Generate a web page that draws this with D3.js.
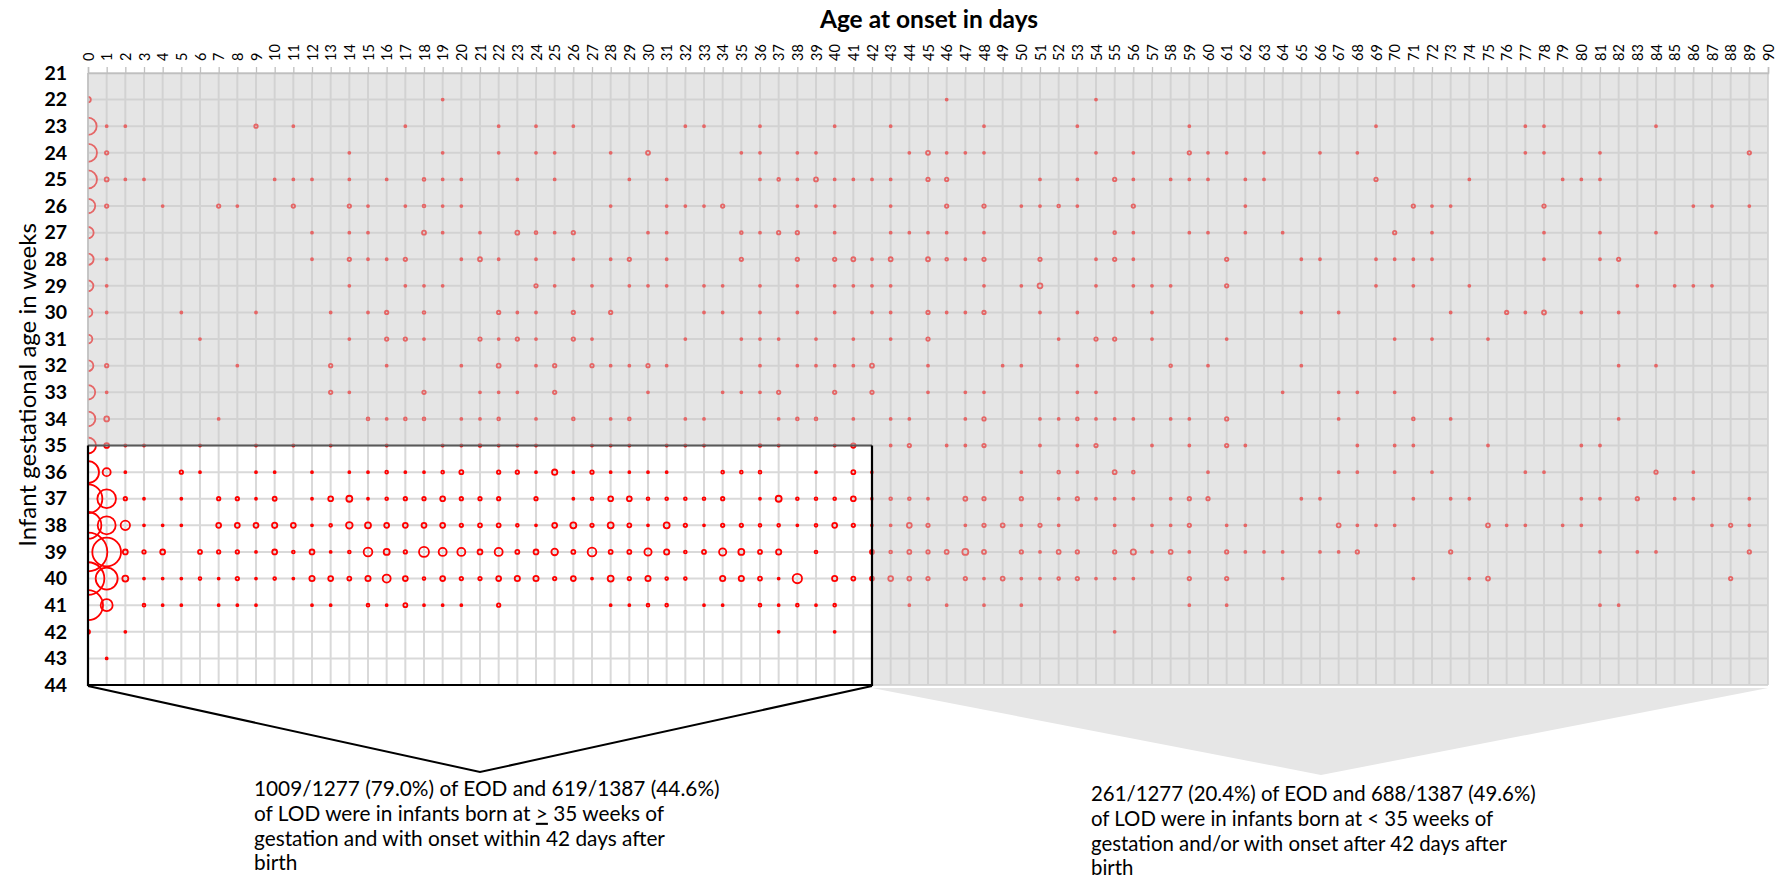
<!DOCTYPE html>
<html><head><meta charset="utf-8">
<script src="https://cdn.jsdelivr.net/npm/d3@7"></script>
<style>
body{margin:0;background:#fff}
svg{display:block}
text{font-family:Lato,"Open Sans","Noto Sans",sans-serif;fill:#000}
</style>
</head><body>
<svg id="chart" width="1791" height="885"></svg>
<script>
// ---------- data: [onset day, bubble size (relative case count)] per gestational week ----------
const dayTicks = d3.range(0, 91);
const weekTicks = d3.range(21, 45);
const week21 = [];
const week22 = [[0,8],[19,1],[46,1],[54,1]];
const week23 = [[0,75],[1,1],[2,1],[9,3],[11,1],[17,1],[22,1],[24,1],[26,1],[32,1],[33,1],[36,1],[40,1],[43,1],[48,1],[53,1],[59,1],[69,1],[77,1],[78,1],[84,1]];
const week24 = [[0,81],[1,3],[14,1],[19,1],[22,1],[24,1],[25,1],[28,1],[30,4],[35,1],[36,1],[38,1],[39,1],[44,1],[45,4],[46,1],[47,1],[48,1],[54,1],[56,1],[59,3],[60,1],[61,1],[63,1],[66,1],[68,1],[77,1],[78,1],[81,1],[89,3]];
const week25 = [[0,81],[1,4],[2,1],[3,1],[10,1],[11,1],[12,1],[14,1],[16,1],[18,2],[19,1],[20,1],[23,1],[25,1],[29,1],[31,1],[36,1],[37,2],[38,1],[39,4],[40,1],[41,1],[42,1],[43,1],[45,3],[46,3],[51,1],[53,1],[55,3],[56,1],[58,1],[59,1],[60,1],[62,1],[63,1],[69,3],[74,1],[79,1],[80,1],[81,1]];
const week26 = [[0,52],[1,3],[4,1],[7,3],[8,1],[11,3],[14,3],[15,1],[17,1],[18,2],[19,1],[20,1],[28,1],[31,1],[32,1],[33,1],[34,3],[38,1],[39,1],[40,1],[43,1],[46,3],[48,3],[50,1],[51,1],[52,2],[53,1],[56,3],[62,1],[71,3],[72,1],[73,1],[78,3],[86,1],[87,1],[89,1]];
const week27 = [[0,32],[12,1],[14,1],[15,1],[18,4],[19,1],[21,1],[23,4],[24,2],[25,1],[26,3],[30,1],[31,1],[35,2],[36,1],[37,3],[38,3],[40,1],[43,1],[44,1],[45,1],[46,1],[48,1],[55,2],[56,1],[59,1],[60,1],[62,1],[64,1],[70,3],[72,1],[78,1],[81,1],[84,1]];
const week28 = [[0,32],[1,1],[12,1],[14,3],[15,1],[16,1],[17,3],[20,1],[21,4],[22,1],[24,1],[26,1],[28,1],[29,3],[31,1],[35,3],[38,3],[40,3],[41,4],[42,1],[43,4],[45,4],[46,2],[47,1],[48,3],[51,3],[54,1],[55,3],[56,1],[61,3],[65,1],[66,1],[69,1],[70,1],[71,1],[72,1],[78,1],[81,1],[82,3]];
const week29 = [[0,29],[1,1],[14,1],[17,1],[18,1],[19,1],[24,3],[25,1],[27,1],[29,1],[30,1],[31,1],[33,1],[34,1],[36,1],[38,1],[40,1],[41,1],[42,1],[43,1],[48,1],[50,1],[51,6],[54,1],[56,1],[57,1],[58,1],[61,3],[69,1],[71,1],[74,1],[83,1],[85,1],[86,1],[87,1]];
const week30 = [[0,19],[1,1],[5,1],[9,1],[13,1],[15,1],[16,3],[18,2],[22,3],[23,1],[24,1],[26,3],[28,3],[33,1],[34,1],[36,1],[38,1],[40,1],[42,1],[43,1],[45,3],[46,1],[47,1],[48,3],[51,1],[53,1],[57,1],[65,1],[67,1],[73,1],[76,3],[77,1],[78,4],[80,1],[82,1]];
const week31 = [[0,19],[6,1],[14,1],[16,3],[17,3],[18,1],[21,3],[22,1],[23,3],[24,1],[26,3],[27,1],[32,1],[35,1],[36,1],[37,1],[39,1],[41,1],[43,1],[45,3],[52,1],[54,3],[55,3],[57,1],[61,1],[70,1],[72,1],[75,1]];
const week32 = [[0,29],[1,3],[8,1],[13,3],[16,1],[20,1],[22,4],[24,1],[25,3],[27,3],[28,1],[29,1],[30,3],[31,1],[36,1],[38,1],[39,1],[40,1],[41,1],[42,4],[45,1],[49,1],[50,1],[53,1],[58,2],[60,1],[65,1],[82,1],[84,1]];
const week33 = [[0,52],[1,1],[13,3],[14,1],[18,3],[21,1],[22,1],[23,1],[25,3],[30,1],[34,1],[35,1],[36,1],[37,3],[40,3],[42,3],[45,1],[47,1],[48,1],[53,1],[54,1],[64,1],[67,1],[68,1],[70,1]];
const week34 = [[0,54],[1,6],[7,1],[15,2],[16,1],[17,2],[18,2],[20,1],[21,1],[22,2],[24,1],[26,2],[28,1],[29,2],[32,1],[33,1],[37,1],[38,2],[39,2],[41,1],[43,1],[44,1],[47,1],[48,3],[51,1],[52,1],[53,2],[54,1],[55,1],[56,1],[58,1],[59,1],[61,3],[67,1],[71,2],[73,1],[82,1]];
const week35 = [[0,64],[1,6],[2,1],[3,1],[6,1],[9,1],[11,1],[13,1],[16,1],[19,1],[20,1],[21,2],[22,1],[23,1],[24,1],[27,1],[28,1],[29,1],[31,1],[32,1],[33,1],[36,2],[37,1],[40,1],[41,5],[43,1],[44,3],[46,1],[47,1],[48,3],[51,1],[53,1],[54,3],[57,1],[59,1],[61,3],[62,1],[68,1],[70,1],[71,1],[75,1],[80,1],[81,1]];
const week36 = [[0,121],[1,16],[2,1],[5,3],[6,1],[9,1],[10,1],[12,1],[14,1],[15,1],[16,2],[17,1],[18,1],[19,2],[20,4],[22,3],[23,3],[24,1],[25,7],[26,1],[27,3],[28,1],[29,1],[30,1],[31,1],[34,2],[35,2],[36,2],[39,1],[41,4],[42,1],[50,1],[52,2],[53,1],[55,4],[56,2],[60,1],[67,1],[68,1],[70,1],[72,1],[77,1],[78,1],[84,3],[86,1]];
const week37 = [[0,206],[1,87],[2,3],[3,1],[5,1],[7,3],[8,3],[9,1],[10,4],[12,1],[13,6],[14,9],[15,1],[16,2],[17,3],[18,3],[19,6],[20,3],[21,3],[22,3],[24,3],[26,1],[27,2],[28,6],[29,6],[30,2],[31,2],[32,2],[33,2],[34,3],[36,1],[37,9],[38,2],[39,2],[40,2],[41,6],[42,1],[43,2],[44,2],[45,1],[47,4],[48,3],[50,3],[52,1],[53,3],[54,1],[55,1],[56,1],[58,1],[59,3],[60,3],[65,1],[66,1],[71,1],[73,1],[74,1],[80,1],[81,1],[83,3],[85,1],[86,1],[89,1]];
const week38 = [[0,178],[1,81],[2,22],[3,1],[4,1],[5,1],[7,6],[8,6],[9,6],[10,7],[11,6],[12,1],[13,2],[14,11],[15,9],[16,6],[17,6],[18,6],[19,6],[20,3],[21,4],[22,4],[23,2],[24,1],[25,6],[26,9],[27,3],[28,9],[29,4],[30,1],[31,9],[32,3],[33,1],[34,3],[35,3],[36,2],[37,2],[38,1],[39,2],[40,6],[41,3],[42,1],[43,1],[44,6],[45,3],[47,1],[48,3],[49,4],[50,1],[51,3],[52,1],[55,1],[57,1],[58,1],[59,3],[61,1],[62,1],[67,4],[68,1],[69,1],[70,1],[75,4],[76,1],[77,1],[79,1],[80,1],[87,1],[88,3],[89,1]];
const week39 = [[0,374],[1,206],[2,6],[3,3],[4,6],[6,4],[7,3],[8,3],[9,1],[10,6],[11,2],[12,6],[13,1],[14,2],[15,19],[16,9],[17,3],[18,25],[19,16],[20,16],[21,6],[22,16],[23,4],[24,6],[25,11],[26,4],[27,19],[28,4],[29,4],[30,13],[31,7],[32,2],[33,4],[34,13],[35,9],[36,4],[37,7],[39,2],[42,4],[43,2],[44,4],[45,3],[46,4],[47,9],[48,4],[50,3],[51,1],[52,4],[53,3],[55,3],[56,7],[57,1],[58,4],[59,1],[61,3],[62,1],[63,1],[64,1],[66,1],[67,1],[68,3],[73,3],[81,1],[83,1],[84,1],[89,3]];
const week40 = [[0,267],[1,121],[2,9],[3,1],[4,1],[5,1],[6,2],[7,1],[8,3],[9,1],[10,2],[11,1],[12,7],[13,6],[14,4],[15,7],[16,16],[17,6],[18,2],[19,6],[20,3],[21,3],[22,6],[23,7],[24,7],[25,3],[26,6],[27,1],[28,9],[29,3],[30,7],[31,2],[32,2],[34,7],[35,7],[36,4],[37,1],[38,22],[40,7],[41,4],[42,4],[43,6],[44,4],[45,3],[47,3],[48,1],[49,4],[50,1],[51,1],[52,2],[53,3],[54,1],[55,1],[56,1],[59,3],[61,3],[64,1],[71,1],[74,1],[75,4],[88,3]];
const week41 = [[0,225],[1,36],[3,2],[4,1],[5,1],[7,1],[8,1],[9,1],[12,1],[13,1],[15,2],[16,1],[17,4],[18,1],[19,1],[20,1],[22,3],[28,1],[29,1],[30,2],[31,2],[33,1],[34,1],[36,2],[37,1],[38,2],[39,1],[40,2],[44,1],[46,1],[48,1],[50,1],[59,1],[61,1],[81,1],[82,1]];
const week42 = [[0,4],[2,1],[37,1],[40,1],[55,1]];
const week43 = [[1,1]];
const week44 = [];

const weekRows = [[21,week21],[22,week22],[23,week23],[24,week24],[25,week25],[26,week26],[27,week27],[28,week28],[29,week29],[30,week30],[31,week31],[32,week32],[33,week33],[34,week34],[35,week35],[36,week36],[37,week37],[38,week38],[39,week39],[40,week40],[41,week41],[42,week42],[43,week43],[44,week44]];

const highlightDayMax = 42;   // onset within 42 days
const highlightWeekMin = 35;  // >= 35 weeks

const xTitle = "Age at onset in days";
const yTitle = "Infant gestational age in weeks";
const leftNote = ["1009/1277 (79.0%) of EOD and 619/1387 (44.6%)", "of LOD were in infants born at |>| 35 weeks of", "gestation and with onset within 42 days after", "birth"];
const rightNote = ["261/1277 (20.4%) of EOD and 688/1387 (49.6%)", "of LOD were in infants born at < 35 weeks of", "gestation and/or with onset after 42 days after", "birth"];

// ---------- drawing ----------
const svg = d3.select("#chart");
const L = 88, R = 1768, T = 73, B = 685;
const x = d3.scaleLinear().domain([0, 90]).range([L, R]);
const y = d3.scaleLinear().domain([21, 44]).range([T, B]);
const maxN = d3.max(weekRows, r => d3.max(r[1], d => d[1]) || 0);
const rScale = d3.scaleSqrt().domain([0, maxN]).range([0, Math.sqrt(maxN) * 1.0]);

svg.append("rect").attr("width", 1791).attr("height", 885).attr("fill", "#fff");

svg.append("defs").append("clipPath").attr("id", "plotClip")
  .append("rect").attr("x", L).attr("y", T).attr("width", R - L).attr("height", B - T);

// grid
const grid = svg.append("g").attr("stroke", "#d9d9d9").attr("stroke-width", 2);
grid.selectAll("line.v").data(dayTicks).join("line")
  .attr("x1", d => x(d)).attr("x2", d => x(d)).attr("y1", T).attr("y2", B);
grid.selectAll("line.h").data(weekTicks).join("line")
  .attr("x1", L).attr("x2", R).attr("y1", d => y(d)).attr("y2", d => y(d));

// bubbles
const pts = [];
weekRows.forEach(([w, arr]) => arr.forEach(([d, n]) => pts.push({day: d, week: w, n})));
pts.sort((a, b) => b.n - a.n);
svg.append("g").attr("clip-path", "url(#plotClip)")
  .selectAll("circle").data(pts).join("circle")
  .attr("cx", d => x(d.day)).attr("cy", d => y(d.week))
  .attr("r", d => rScale(d.n))
  .attr("fill", "none").attr("stroke", "#ff0000").attr("stroke-width", 1.8);

// gray overlay outside highlighted box
const bx0 = x(0), bx1 = x(highlightDayMax), by0 = y(highlightWeekMin), by1 = y(44);
svg.append("path")
  .attr("d", `M${L},${T}H${R}V${B}H${L}Z M${bx0},${by0}V${by1}H${bx1}V${by0}Z`)
  .attr("fill-rule", "evenodd").attr("fill", "#cbcbcb").attr("fill-opacity", 0.5);

// top axis
const xAxis = d3.axisTop(x).tickValues(dayTicks).tickSize(6).tickPadding(6).tickFormat(d3.format("d"));
const gx = svg.append("g").attr("transform", `translate(0,${T})`).call(xAxis);
gx.select(".domain").attr("stroke", "#bfbfbf").attr("stroke-width", 1.5);
gx.selectAll(".tick line").attr("stroke", "#bfbfbf").attr("stroke-width", 1.3);
gx.selectAll(".tick text")
  .attr("transform", "rotate(-90)").attr("x", 12).attr("y", 0).attr("dy", "0.36em")
  .attr("text-anchor", "start")
  .style("font-family", "Lato, sans-serif").style("font-size", "14.5px").attr("fill", "#000");

// left axis (gray upper part)
svg.append("line").attr("x1", L).attr("x2", L).attr("y1", T).attr("y2", by0)
  .attr("stroke", "#bfbfbf").attr("stroke-width", 1.5);

// y tick labels
const yAxis = d3.axisLeft(y).tickValues(weekTicks).tickSize(0).tickPadding(21).tickFormat(d3.format("d"));
const gy = svg.append("g").attr("transform", `translate(${L},0)`).call(yAxis);
gy.select(".domain").remove();
gy.selectAll(".tick text").style("font-family", "Lato, sans-serif").style("font-size", "19.5px")
  .style("font-weight", "bold").attr("fill", "#000");

// highlight box border
svg.append("line").attr("x1", bx0).attr("x2", bx1).attr("y1", by0).attr("y2", by0)
  .attr("stroke", "#595959").attr("stroke-width", 2);
svg.append("path").attr("d", `M${bx0},${by0}V${by1}H${bx1}V${by0}`)
  .attr("fill", "none").attr("stroke", "#000").attr("stroke-width", 2.2);

// callouts
const apexL = [480, 772], apexR = [1321, 775];
svg.append("path").attr("d", `M${bx1},${B + 3}L${R},${B + 3}L${apexR[0]},${apexR[1]}Z`)
  .attr("fill", "#e6e6e6");
svg.append("path").attr("d", `M${bx0},${B + 1}L${apexL[0]},${apexL[1]}L${bx1},${B + 1}`)
  .attr("fill", "none").attr("stroke", "#000").attr("stroke-width", 2);

// titles
svg.append("text").attr("x", 929).attr("y", 28).attr("text-anchor", "middle")
  .style("font-size", "24.5px").style("font-weight", "bold").text(xTitle);
svg.append("text").attr("transform", "translate(28,385) rotate(-90)")
  .attr("text-anchor", "middle").attr("dy", "0.35em")
  .style("font-size", "24px").text(yTitle);

// notes
function note(lines, x0, y0, fs) {
  const t = svg.append("text").attr("x", x0).attr("y", y0).style("font-size", fs + "px");
  lines.forEach((ln, i) => {
    const parts = ln.split("|");
    parts.forEach((p, j) => {
      const ts = t.append("tspan").text(p);
      if (j === 0) ts.attr("x", x0).attr("y", y0 + i * 24.8);
      if (j === 1) ts.style("text-decoration", "underline");
    });
  });
}
note(leftNote, 254, 796, 20.8);
note(rightNote, 1091, 801, 20.4);
</script>
</body></html>
